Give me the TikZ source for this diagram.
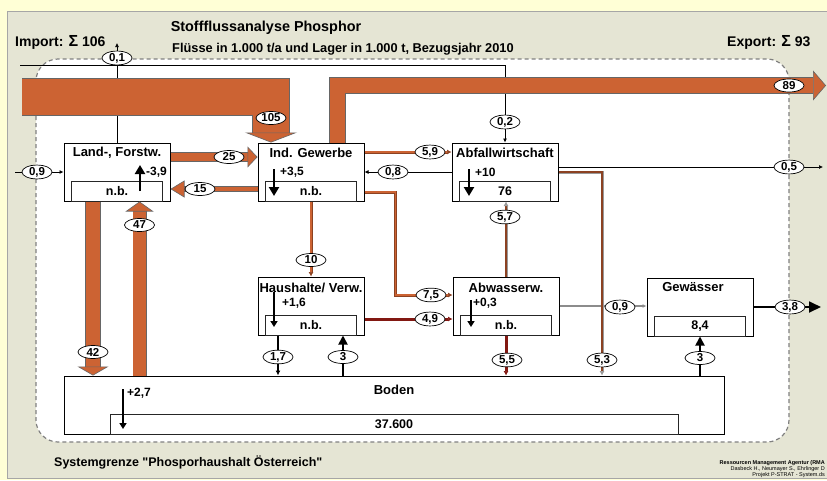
\documentclass[tikz,border=0pt]{standalone}
\usepackage{fontspec}
\setmainfont{Liberation Sans}
\usepackage{xcolor}
\usepackage{tikz}
\usetikzlibrary{arrows.meta,positioning,shapes.geometric}

\definecolor{outerbg}{RGB}{255,255,214}
\definecolor{panelbg}{RGB}{229,229,212}
\definecolor{flowor}{RGB}{204,99,51}
\definecolor{pipebr}{RGB}{140,66,34}
\definecolor{pipered}{RGB}{130,24,18}
\newcommand{\pxfont}[1]{\fontsize{#1}{#1}\selectfont\bfseries}

\begin{document}
\begin{tikzpicture}[
  x=1pt,y=-1pt,
  proc/.style={rectangle,draw=black,line width=1pt,fill=white,minimum width=106pt,
               minimum height=58pt,inner sep=0pt},
  store/.style={rectangle,draw=black!85,line width=0.8pt,fill=white,minimum width=91pt,
                minimum height=20pt,inner sep=0pt,anchor=south,font=\pxfont{12.5}},
  boxtitle/.style={inner sep=0pt,font=\pxfont{13}},
  stocklab/.style={inner sep=0pt,anchor=west,font=\pxfont{12}},
  txt/.style={inner sep=0pt,font=\pxfont{#1}},
  val/.style={ellipse,draw=black,line width=0.7pt,fill=white,inner xsep=1pt,inner ysep=0pt,
              minimum width=30pt,minimum height=13pt,font=\pxfont{11.5}},
  band/.style={draw=black!60,line width=0.6pt,double=flowor,double distance=#1},
  bigtip/.style 2 args={-{Triangle[fill=flowor,line width=0.6pt,length=#1,width=#2]}},
  wire/.style={draw=black,line width=0.7pt,-{Latex[length=4pt,width=4pt]}},
  pipe/.style 2 args={draw=#1,double=#2,line width=0.7pt,double distance=1.6pt,
                      -{Latex[length=4.5pt,width=5pt]}},
  stock/.style={line width=2.2pt,-{Triangle[length=9pt,width=10pt]}},
  smallstock/.style={line width=1.6pt,-{Triangle[length=6pt,width=7pt]}},
  soilarr/.style={line width=1.8pt,-{Triangle[length=9pt,width=9pt]}}
]
  \useasboundingbox (0,0) rectangle (827,480);
  \fill[outerbg] (0,0) rectangle (827,480);
  \filldraw[fill=panelbg,draw=black!35,line width=0.8pt] (7,11) rectangle (840,478);
  \filldraw[fill=white,draw=black!50,line width=1.2pt,dash pattern=on 4pt off 3pt,
            rounded corners=22pt] (36,59) rectangle (789,442);

  % headings
  \node[txt=14.4] (head) at (266,28) {Stoffflussanalyse Phosphor};
  \node[txt=12.8,anchor=west] (sub) at (172,49) {Flüsse in 1.000 t/a und Lager in 1.000 t, Bezugsjahr 2010};
  \node[txt=14,anchor=west] (imp) at (15,42) {Import: {\fontsize{16}{16}\selectfont Σ} 106};
  \node[txt=14,anchor=west] (exp) at (727,42) {Export: {\fontsize{16}{16}\selectfont Σ} 93};
  \node[txt=12.5,anchor=west] (sysg) at (54,462) {Systemgrenze \textquotedbl Phosporhaushalt Österreich\textquotedbl};
  \node[inner sep=0pt,anchor=east,align=right,font=\fontsize{5.5}{6}\selectfont] (cred) at (825,469)
    {\textbf{Ressourcen Management Agentur (RMA}\\Dasbeck H., Neumayer S., Ehrlinger D\\Projekt P-STRAT - System.ds};

  % processes
  \node[proc] (land) at (117,172) {};
  \node[proc] (ind) at (311,172) {};
  \node[proc] (abf) at (505,172) {};
  \node[proc] (hh) at (311,306) {};
  \node[proc] (abw) at (506,306) {};
  \node[proc] (gew) at (700,307) {};
  \node[proc,minimum width=660pt] (bod) at (394,405) {};

  \node[store] (landS) at (land.south) {n.b.};
  \node[store] (indS) at (ind.south) {n.b.};
  \node[store] (abfS) at (abf.south) {76};
  \node[store] (hhS) at (hh.south) {n.b.};
  \node[store] (abwS) at (abw.south) {n.b.};
  \node[store] (gewS) at (gew.south) {8,4};
  \node[store,minimum width=568pt] (bodS) at (bod.south) {37.600};

  \node[boxtitle] (landT) at ([yshift=-10pt]land.north) {Land-, Forstw.};
  \node[boxtitle] (indT) at ([yshift=-10pt]ind.north) {Ind. Gewerbe};
  \node[boxtitle] (abfT) at ([yshift=-10pt]abf.north) {Abfallwirtschaft};
  \node[boxtitle] (hhT) at ([yshift=-11pt]hh.north) {Haushalte/ Verw.};
  \node[boxtitle] (abwT) at ([yshift=-11pt]abw.north) {Abwasserw.};
  \node[boxtitle] (gewT) at ([xshift=-7pt,yshift=-10pt]gew.north) {Gewässer};
  \node[boxtitle] (bodT) at ([yshift=-14pt]bod.north) {Boden};

  % stock changes
  \draw[stock] ([shift={(23pt,-19pt)}]land.center) -- ([shift={(23pt,7pt)}]land.center);
  \node[stocklab] (landD) at ([shift={(29pt,0pt)}]land.center) {-3,9};
  \draw[stock] ([shift={(-37pt,3pt)}]ind.center) -- ([shift={(-37pt,-24pt)}]ind.center);
  \node[stocklab] (indD) at ([shift={(-31pt,0pt)}]ind.center) {+3,5};
  \draw[stock] ([shift={(-36pt,3pt)}]abf.center) -- ([shift={(-36pt,-24pt)}]abf.center);
  \node[stocklab] (abfD) at ([shift={(-30pt,0pt)}]abf.center) {+10};
  \draw[smallstock] ([shift={(-37pt,14pt)}]hh.center) -- ([shift={(-37pt,-21pt)}]hh.center);
  \node[stocklab] (hhD) at ([shift={(-29pt,3pt)}]hh.center) {+1,6};
  \draw[smallstock] ([shift={(-35pt,6pt)}]abw.center) -- ([shift={(-35pt,-21pt)}]abw.center);
  \node[stocklab] (abwD) at ([shift={(-33pt,3pt)}]abw.center) {+0,3};
  \draw[smallstock] ([shift={(-271pt,16pt)}]bod.center) -- ([shift={(-271pt,-24pt)}]bod.center);
  \node[stocklab] (bodD) at ([shift={(-267pt,12pt)}]bod.center) {+2,7};

  % end points and bends
  \coordinate (in09) at (15,172);
  \coordinate (in02) at (20,65);
  \coordinate (out01) at (117,43);
  \coordinate (out05) at (823,167);
  \coordinate (out38) at (821,307);
  \coordinate (impin) at (22,97);
  \coordinate (expout) at (826,85.5);
  \coordinate (land47) at ([xshift=22.5pt]land.south);
  \coordinate (land42) at ([xshift=-24pt]land.south);
  \coordinate (hh17) at ([xshift=-33pt]hh.south);
  \coordinate (hh3) at ([xshift=32pt]hh.south);
  \coordinate (bod53) at ([xshift=208pt]bod.north);

  % thin flows
  \draw[wire] (in09) -- (land.west);
  \draw[wire] (land.north) -- (out01);
  \draw[wire] (in02) -| (abf.north);
  \draw[wire] (abf.west) -- (ind.east);
  \draw[wire] ([yshift=5pt]abf.east) -- (out05);
  \draw[wire,draw=black!45,line width=1.1pt] (abw.east) -- (abw.east -| gew.west);
  \draw[line width=1.8pt,-{Triangle[length=12pt,width=11pt]}] (gew.east) -- (out38);
  \draw[soilarr] (bod.north -| gew.south) -- (gew.south);
  \draw[line width=1.6pt,-{Latex[length=5pt,width=5pt]}] (hh17) -- (hh17 |- bod.north);
  \draw[soilarr] (hh3 |- bod.north) -- (hh3);

  % big flows
  \draw[band=36.8pt,bigtip={10pt}{52pt}] (impin) -| ([xshift=-40pt]ind.north);
  \draw[band=15.8pt,bigtip={13pt}{30pt}] ([xshift=26.5pt]ind.north) |- (expout);
  \draw[band=8.8pt,bigtip={10pt}{21pt}] ([yshift=15pt]land.east) -- ([yshift=15pt]ind.west);
  \draw[band=4.8pt,bigtip={14pt}{17pt}] ([yshift=-17pt]ind.west) -- ([yshift=-17pt]land.east);
  \draw[band=12.8pt,bigtip={10pt}{28pt}] (land47 |- bod.north) -- (land47);
  \draw[band=14.8pt,bigtip={9pt}{31pt}] (land42) -- (land42 |- bod.north);

  % pipes
  \draw[pipe={pipebr}{flowor}] ([yshift=20pt]ind.east) -- ([yshift=20pt]abf.west);
  \draw[pipe={pipebr}{flowor}] (ind.south) -- (hh.north);
  \draw[pipe={pipebr}{flowor}] ([yshift=-20pt]ind.east) -- ++(31,0) |- ([yshift=11pt]abw.west);
  \draw[pipe={pipered}{pipered}] ([yshift=-13pt]hh.east) -- ([yshift=-13pt]abw.west);
  \draw[pipe={black!40}{pipebr}] (abw.north) -- (abw.north |- abf.south);
  \draw[pipe={pipered}{pipered}] (abw.south) -- (abw.south |- bod.north);
  \draw[pipe={black!40}{pipebr}] (abf.east) -| (bod53);

  % values
  \node[val] (v01) at (117,58) {0,1};
  \node[val] (v02) at (505,122) {0,2};
  \node[val] (v09a) at (37,172) {0,9};
  \node[val] (v105) at (271,118) {105};
  \node[val] (v89) at (789,85.5) {89};
  \node[val] (v25) at (229,157) {25};
  \node[val] (v15) at (200,189) {15};
  \node[val] (v59) at (430,152) {5,9};
  \node[val] (v08) at (393,172) {0,8};
  \node[val] (v05) at (789,167) {0,5};
  \node[val] (v47) at (139.5,225) {47};
  \node[val] (v42) at (93,352) {42};
  \node[val] (v10) at (311,260) {10};
  \node[val] (v75) at (431,295) {7,5};
  \node[val] (v49) at (430,319) {4,9};
  \node[val] (v57) at (505,217) {5,7};
  \node[val] (v55) at (507,360) {5,5};
  \node[val] (v53) at (602,360) {5,3};
  \node[val] (v09b) at (620,307) {0,9};
  \node[val] (v38) at (790,307) {3,8};
  \node[val] (v3g) at (700,358) {3};
  \node[val] (v17) at (278,357) {1,7};
  \node[val] (v3h) at (343,357) {3};
\end{tikzpicture}
\end{document}
